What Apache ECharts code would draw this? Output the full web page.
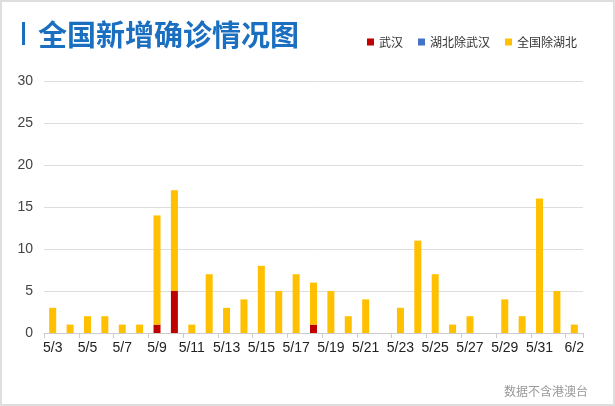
<!DOCTYPE html>
<html>
<head>
    <meta charset="utf-8">
    <title>全国新增确诊情况图</title>
    <script src="https://cdn.jsdelivr.net/npm/echarts@6/dist/echarts.min.js"></script>
</head>
<body style="margin:0">
<div style="position:relative;width:615px;height:406px;background:#fff">
    <div id="container" style="width:615px;height:406px"></div>
    <div style="position:absolute;left:0;top:0;width:615px;height:406px;box-sizing:border-box;border:2px solid #dedede;pointer-events:none"></div>
</div>
<script type="text/javascript">
// 日期 5/3 - 6/2
var days = ['5/3','5/4','5/5','5/6','5/7','5/8','5/9','5/10','5/11','5/12','5/13','5/14','5/15','5/16','5/17',
    '5/18','5/19','5/20','5/21','5/22','5/23','5/24','5/25','5/26','5/27','5/28','5/29','5/30','5/31','6/1','6/2'];
// 武汉
var wuhan = [0,0,0,0,0,0,1,5,0,0,0,0,0,0,0,1,0,0,0,0,0,0,0,0,0,0,0,0,0,0,0];
// 湖北除武汉
var hubeiOther = [0,0,0,0,0,0,0,0,0,0,0,0,0,0,0,0,0,0,0,0,0,0,0,0,0,0,0,0,0,0,0];
// 全国除湖北
var nationOther = [3,1,2,2,1,1,13,12,1,7,3,4,8,5,7,5,5,2,4,0,3,11,7,1,2,0,4,2,16,5,1];
var yTicks = [0, 30, 5];

var dom = document.getElementById('container');
var myChart = echarts.init(dom);
var option = {
    animation: false,
    textStyle: {fontFamily: 'Liberation Sans, Arial, sans-serif'},
    title: {
        text: '全国新增确诊情况图',
        left: 33,
        top: 15,
        textStyle: {
            color: '#1a6fc0',
            fontSize: 29,
            fontWeight: 'bold',
            fontFamily: 'Noto Sans CJK SC'
        }
    },
    graphic: [{
        type: 'rect',
        left: 22,
        top: 22,
        shape: {width: 3, height: 23},
        style: {fill: '#1a6fc0'}
    }, {
        type: 'text',
        right: 27,
        top: 385,
        style: {
            text: '数据不含港澳台',
            fill: '#999',
            font: '12px "Noto Sans CJK SC"'
        }
    }],
    legend: {
        left: 362,
        top: 31,
        itemWidth: 7,
        itemHeight: 7,
        itemGap: 15,
        icon: 'rect',
        textStyle: {fontSize: 12, color: '#333', fontFamily: 'Noto Sans CJK SC'},
        data: ['武汉', '湖北除武汉', '全国除湖北']
    },
    grid: {left: 44, right: 32, top: 81, bottom: 73},
    xAxis: {
        type: 'category',
        data: days,
        axisLine: {lineStyle: {color: '#ccc'}},
        axisTick: {show: true, length: 5, lineStyle: {color: '#ccc'}},
        axisLabel: {interval: 1, color: '#222', fontSize: 14, margin: 8}
    },
    yAxis: {
        type: 'value',
        min: yTicks[0],
        max: yTicks[1],
        interval: yTicks[2],
        axisLine: {show: false},
        axisTick: {show: false},
        axisLabel: {color: '#444', fontSize: 14, margin: 11},
        splitLine: {lineStyle: {color: '#ddd'}}
    },
    series: [{
        name: '武汉',
        type: 'bar',
        stack: 'total',
        barWidth: 7,
        itemStyle: {color: '#c00000'},
        data: wuhan
    }, {
        name: '湖北除武汉',
        type: 'bar',
        stack: 'total',
        barWidth: 7,
        itemStyle: {color: '#4472c4'},
        data: hubeiOther
    }, {
        name: '全国除湖北',
        type: 'bar',
        stack: 'total',
        barWidth: 7,
        itemStyle: {color: '#ffc000'},
        data: nationOther
    }]
};
myChart.setOption(option);
</script>
</body>
</html>
